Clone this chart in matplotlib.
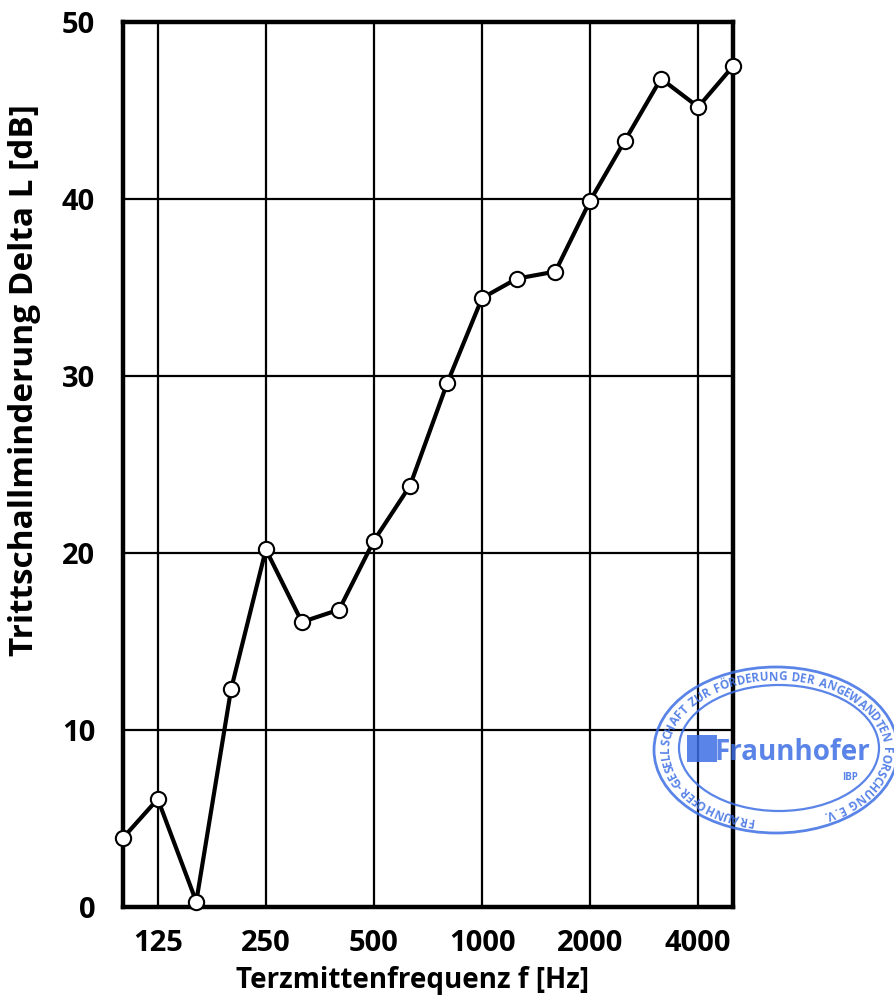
import matplotlib
matplotlib.use("Agg")
import numpy as np
import matplotlib.pyplot as plt
from matplotlib.patches import Ellipse, Rectangle
from matplotlib.ticker import NullLocator

# third-octave centre frequencies and measured reduction
freqs = [100, 125, 160, 200, 250, 315, 400, 500, 630, 800,
         1000, 1250, 1600, 2000, 2500, 3150, 4000, 5000]
delta_l = [3.9, 6.1, 0.3, 12.3, 20.2, 16.1, 16.8, 20.7, 23.8, 29.6,
           34.4, 35.5, 35.9, 39.9, 43.3, 46.8, 45.2, 47.5]
xticks = [125, 250, 500, 1000, 2000, 4000]
yticks = [0, 10, 20, 30, 40, 50]
stamp_ring = "FRAUNHOFER-GESELLSCHAFT ZUR FÖRDERUNG DER ANGEWANDTEN FORSCHUNG E.V."

plt.rcParams["font.family"] = ["Open Sans", "DejaVu Sans"]
plt.rcParams["font.weight"] = "bold"

W, H = 895, 1000
fig = plt.figure(figsize=(W / 100, H / 100), dpi=100)
ax = fig.add_axes([0.1374, 0.093, 0.6816, 0.885])

ax.plot(freqs, delta_l, color="black", lw=3, marker="o", ms=11,
        mfc="white", mec="black", mew=1.5, zorder=5, clip_on=False)

ax.set_xscale("log")
ax.set_xlim(100, 5000)
ax.set_ylim(0, 50)
ax.set_xticks(xticks)
ax.set_xticklabels([str(t) for t in xticks])
ax.xaxis.set_minor_locator(NullLocator())
ax.set_yticks(yticks)
ax.tick_params(length=0, labelsize=21)
ax.tick_params(axis="x", pad=16)
ax.tick_params(axis="y", pad=20)
for lbl in ax.get_xticklabels() + ax.get_yticklabels():
    lbl.set_fontweight("bold")

ax.grid(True, color="black", lw=1.6)
for s in ax.spines.values():
    s.set_linewidth(3.2)

ax.set_xlabel("Terzmittenfrequenz f [Hz]", fontsize=20, fontweight="bold")
ax.set_ylabel("Trittschallminderung Delta L [dB]", fontsize=24, fontweight="bold")
ax.xaxis.set_label_coords(0.474, -0.067)
ax.yaxis.set_label_coords(-0.134, 0.595)

# stamp (pixel coords, y measured from top)
stamp_c = "#3d6fe3"
cx, cy = 776, 750


def fx(x):
    return x / W


def fy(y):
    return (H - y) / H


fig.patches.append(Ellipse((fx(cx), fy(cy)), 244 / W, 166 / H, transform=fig.transFigure,
                           fill=False, ec=stamp_c, lw=2, alpha=0.85, zorder=10))
fig.patches.append(Ellipse((fx(cx + 3), fy(cy - 2)), 200 / W, 126 / H, transform=fig.transFigure,
                           fill=False, ec=stamp_c, lw=1.6, alpha=0.85, zorder=10))
fig.patches.append(Rectangle((fx(687), fy(762)), 30 / W, 27 / H, transform=fig.transFigure,
                             fc=stamp_c, ec="none", alpha=0.85, zorder=10))
fig.text(fx(792), fy(752), "Fraunhofer", color=stamp_c, fontsize=20, fontweight="bold",
         ha="center", va="center", alpha=0.85, zorder=11)
fig.text(fx(850), fy(777), "IBP", color=stamp_c, fontsize=7, ha="center", va="center",
         alpha=0.85, zorder=11)

# ring text along ellipse, clockwise from lower left, spaced by glyph width
renderer = fig.canvas.get_renderer()
widths = []
for ch in stamp_ring:
    t = fig.text(0, 0, ch if ch != " " else "n", fontsize=8.5)
    widths.append(t.get_window_extent(renderer).width * (0.6 if ch == " " else 1.0))
    t.remove()
widths = np.array(widths)
centers = np.cumsum(widths) - widths / 2

a, b = 110, 73
th = np.radians(np.linspace(258, -64, 2000))
px = cx + a * np.cos(th)
py = cy - b * np.sin(th)
seg = np.hypot(np.diff(px), np.diff(py))
arc = np.concatenate([[0], np.cumsum(seg)])
pos = centers / widths.sum() * arc[-1]
n = len(th)
for ch, s in zip(stamp_ring, pos):
    i = min(np.searchsorted(arc, s), n - 1)
    tx = px[min(i + 1, n - 1)] - px[max(i - 1, 0)]
    ty = -(py[min(i + 1, n - 1)] - py[max(i - 1, 0)])
    rot = np.degrees(np.arctan2(ty, tx))
    fig.text(fx(px[i]), fy(py[i]), ch, color=stamp_c, fontsize=8.5, rotation=rot,
             rotation_mode="anchor", ha="center", va="center", alpha=0.85, zorder=11)

fig.savefig("out.png", dpi=100)
